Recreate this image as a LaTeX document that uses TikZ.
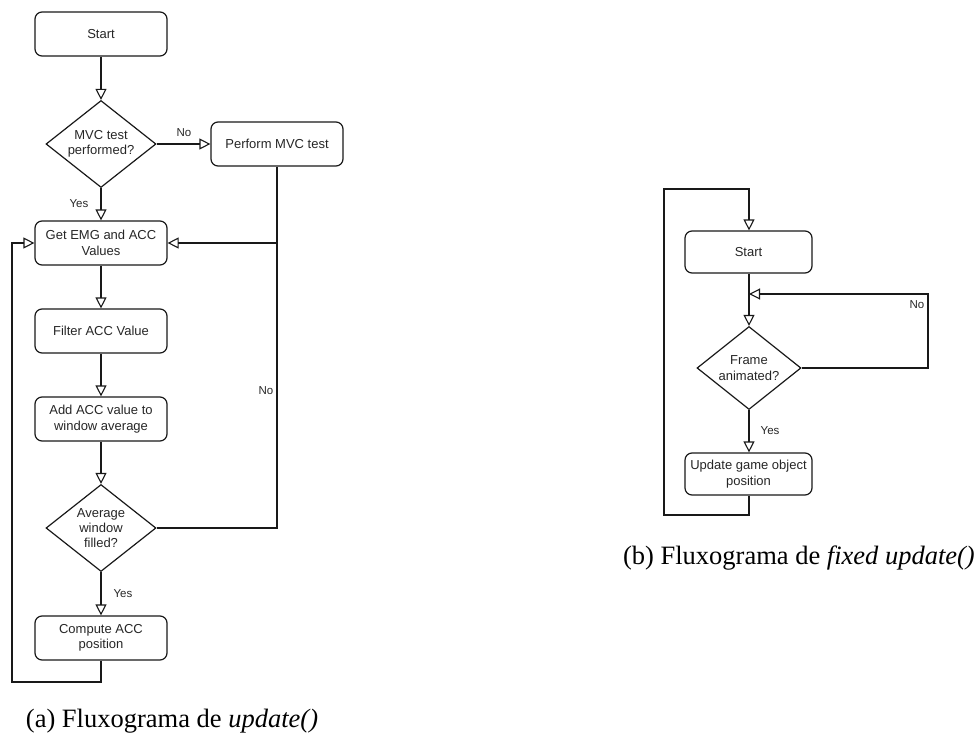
\documentclass[tikz,border=0pt]{standalone}
\usepackage{fontspec}
\setmainfont{Liberation Serif}
\newfontfamily\flowfont{Liberation Sans}
\usetikzlibrary{shapes.geometric,arrows.meta}
\begin{document}
\begin{tikzpicture}[x=1pt,y=-1pt,
  line/.style={draw=black!90, line width=1.2pt},
  arr/.style={line, -{Triangle[open, length=11pt, width=11pt, line width=1.1pt]}},
  boxl/.style={draw=black!90, line width=1.2pt, rounded corners=7pt, minimum width=132pt, minimum height=44pt,
    align=center, text=black!85, font=\flowfont\fontsize{13}{15.3}\selectfont, inner sep=1pt},
  boxr/.style={boxl, minimum width=127pt, minimum height=42pt},
  decision/.style={draw=black!90, line width=1.2pt, diamond, aspect=1.26, inner sep=0pt,
    minimum width=110pt, minimum height=87pt, align=center, text=black!85,
    font=\flowfont\fontsize{13}{15.3}\selectfont},
  lbl/.style={text=black!85, font=\flowfont\fontsize{11.5}{13}\selectfont, inner sep=0pt},
  capt/.style={font=\fontsize{26.5}{30}\selectfont, inner sep=0pt, text=black}
]
\useasboundingbox (0,0) rectangle (979,738);

% ---------- (a) update() ----------
\node[boxl] (s1) at (101,34) {Start};
\node[decision] (mvc) at (101,144) {MVC test\\performed?};
\node[boxl] (perf) at (277,144) {Perform MVC test};
\node[boxl] (get) at (101,243) {Get EMG and ACC\\Values};
\node[boxl] (filt) at (101,331) {Filter ACC Value};
\node[boxl] (add) at (101,419) {Add ACC value to\\window average};
\node[decision] (avg) at (101,528) {Average\\window\\filled?};
\node[boxl] (comp) at (101,638) {Compute ACC\\position};

\coordinate (j1) at (277,243);
\coordinate (lb1) at (101,682);
\coordinate (lb2) at (12,682);
\coordinate (lb3) at (12,243);

\draw[arr] (s1) -- (mvc);
\draw[arr] (mvc) -- (perf);
\draw[arr] (mvc) -- (get);
\draw[line] (perf.south) -- (j1);
\draw[line] (avg.east) -- (avg.east -| j1) -- (j1);
\draw[arr] (j1) -- (get.east);
\draw[arr] (get) -- (filt);
\draw[arr] (filt) -- (add);
\draw[arr] (add) -- (avg);
\draw[arr] (avg) -- (comp);
\draw[arr] (comp.south) -- (lb1) -- (lb2) -- (lb3) -- (get.west);

\node[lbl] (no1) at (184,133) {No};
\node[lbl] (yes1) at (79,204) {Yes};
\node[lbl] (no2) at (266,391) {No};
\node[lbl] (yes2) at (123,594) {Yes};

\node[capt, anchor=base] (capa) at (172,727) {(a) Fluxograma de \textit{update()}};

% ---------- (b) fixed update() ----------
\node[boxr] (s2) at (748.5,252) {Start};
\node[decision, aspect=1.25, minimum width=104pt, minimum height=83pt] (frame) at (749,368) {Frame\\animated?};
\node[boxr] (upd) at (748.5,474) {Update game object\\position};

\coordinate (j2) at (749,294);
\coordinate (r1) at (928,368);
\coordinate (r2) at (928,294);
\coordinate (rb1) at (749,515);
\coordinate (rb2) at (664,515);
\coordinate (rb3) at (664,189);
\coordinate (rb4) at (749,189);

\draw[arr] (s2.south -| j2) -- (frame.north);
\draw[arr] (frame.east) -- (r1) -- (r2) -- (j2);
\draw[arr] (frame) -- (upd.north -| frame);
\draw[arr] (upd.south -| rb1) -- (rb1) -- (rb2) -- (rb3) -- (rb4) -- (s2.north -| rb4);

\node[lbl] (no3) at (917,305) {No};
\node[lbl] (yes3) at (770,431) {Yes};

\node[capt, anchor=base east] (capb) at (975,564) {(b) Fluxograma de \textit{fixed update()}};
\end{tikzpicture}
\end{document}
